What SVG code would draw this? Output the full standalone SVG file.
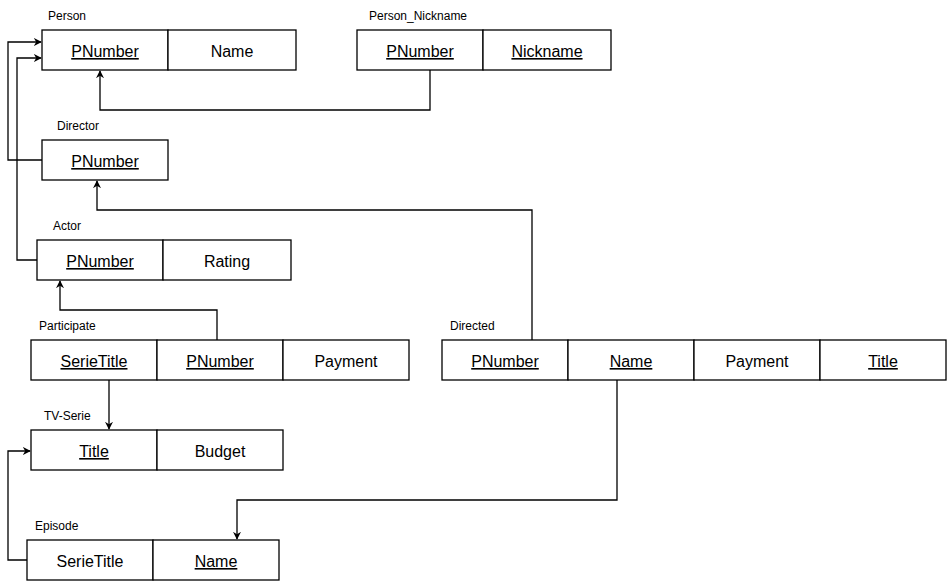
<svg xmlns="http://www.w3.org/2000/svg" width="948" height="581" viewBox="0 0 948 581">
<style>
.cell{fill:#fff;stroke:#000;stroke-width:1.3}
.f{font-family:"Liberation Sans",Arial,sans-serif;font-size:16px;text-anchor:middle;fill:#000}
.k{text-decoration:underline}
.lbl{font-family:"Liberation Sans",Arial,sans-serif;font-size:12px;fill:#000}
.c{fill:none;stroke:#000;stroke-width:1.3}
</style>
<defs>
<marker id="ah" viewBox="0 0 10 10" refX="9" refY="5" markerWidth="8" markerHeight="8" markerUnits="userSpaceOnUse" orient="auto">
<path d="M0,0 L10,5 L0,10 L3,5 Z" fill="#000"/>
</marker>
</defs>
<rect width="948" height="581" fill="#fff"/>
<g id="connectors">
<path class="c" d="M430,70 V110 H100 V71" marker-end="url(#ah)"/>
<path class="c" d="M42,160 H8 V42 H41" marker-end="url(#ah)"/>
<path class="c" d="M37,260 H17 V58 H41" marker-end="url(#ah)"/>
<path class="c" d="M532,340 V210 H97 V181" marker-end="url(#ah)"/>
<path class="c" d="M217,340 V310 H60 V281" marker-end="url(#ah)"/>
<path class="c" d="M109,380 V429" marker-end="url(#ah)"/>
<path class="c" d="M27,560 H8 V451 H30" marker-end="url(#ah)"/>
<path class="c" d="M617,380 V500 H237 V539" marker-end="url(#ah)"/>
</g>
<g id="person">
<text class="lbl" x="48" y="20">Person</text>
<rect class="cell" x="42" y="30" width="126" height="40"/>
<rect class="cell" x="168" y="30" width="128" height="40"/>
<text class="f k" x="105" y="57">PNumber</text>
<text class="f" x="232" y="57">Name</text>
</g>
<g id="person_nickname">
<text class="lbl" x="369" y="20">Person_Nickname</text>
<rect class="cell" x="357" y="30" width="126" height="40"/>
<rect class="cell" x="483" y="30" width="128" height="40"/>
<text class="f k" x="420" y="57">PNumber</text>
<text class="f k" x="547" y="57">Nickname</text>
</g>
<g id="director">
<text class="lbl" x="57" y="130">Director</text>
<rect class="cell" x="42" y="140" width="126" height="40"/>
<text class="f k" x="105" y="167">PNumber</text>
</g>
<g id="actor">
<text class="lbl" x="53" y="230">Actor</text>
<rect class="cell" x="37" y="240" width="126" height="40"/>
<rect class="cell" x="163" y="240" width="128" height="40"/>
<text class="f k" x="100" y="267">PNumber</text>
<text class="f" x="227" y="267">Rating</text>
</g>
<g id="participate">
<text class="lbl" x="39" y="330">Participate</text>
<rect class="cell" x="31" y="340" width="126" height="40"/>
<rect class="cell" x="157" y="340" width="126" height="40"/>
<rect class="cell" x="283" y="340" width="126" height="40"/>
<text class="f k" x="94" y="367">SerieTitle</text>
<text class="f k" x="220" y="367">PNumber</text>
<text class="f" x="346" y="367">Payment</text>
</g>
<g id="directed">
<text class="lbl" x="450" y="330">Directed</text>
<rect class="cell" x="442" y="340" width="126" height="40"/>
<rect class="cell" x="568" y="340" width="126" height="40"/>
<rect class="cell" x="694" y="340" width="126" height="40"/>
<rect class="cell" x="820" y="340" width="126" height="40"/>
<text class="f k" x="505" y="367">PNumber</text>
<text class="f k" x="631" y="367">Name</text>
<text class="f" x="757" y="367">Payment</text>
<text class="f k" x="883" y="367">Title</text>
</g>
<g id="tv_serie">
<text class="lbl" x="44" y="420">TV-Serie</text>
<rect class="cell" x="31" y="430" width="126" height="40"/>
<rect class="cell" x="157" y="430" width="126" height="40"/>
<text class="f k" x="94" y="457">Title</text>
<text class="f" x="220" y="457">Budget</text>
</g>
<g id="episode">
<text class="lbl" x="35" y="530">Episode</text>
<rect class="cell" x="27" y="540" width="126" height="40"/>
<rect class="cell" x="153" y="540" width="126" height="40"/>
<text class="f" x="90" y="567">SerieTitle</text>
<text class="f k" x="216" y="567">Name</text>
</g>
</svg>
